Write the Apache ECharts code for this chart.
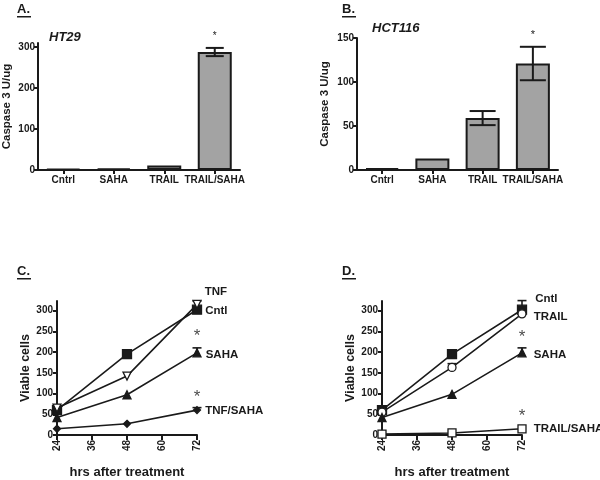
<!DOCTYPE html>
<html><head><meta charset="utf-8">
<script src="https://cdn.jsdelivr.net/npm/echarts@6/dist/echarts.min.js"></script>
<style>html,body{margin:0;padding:0;background:#fff}#c{width:600px;height:480px}</style>
</head><body><div id="c"></div>
<script>
// ---- Data ----
const barCategories = ['Cntrl', 'SAHA', 'TRAIL', 'TRAIL/SAHA'];
const ht29Values = [3, 4, 11, 288];
const ht29Err = [0, 0, 0, 10];
const ht29Star = [false, false, false, true];
const hct116Values = [2, 13, 59, 121];
const hct116Err = [0, 0, 8, 19];
const hct116Star = [false, false, false, true];
const barTicks = { A: [0, 100, 200, 300], B: [0, 50, 100, 150] };

const hours = [24, 48, 72];
const hourTicks = [24, 36, 48, 60, 72];
const cellTicks = [0, 50, 100, 150, 200, 250, 300];

const cCntl = [60, 195, 302];     const cCntlErr = [8, 10, 0];
const cTNF = [65, 142, 315];      const cTNFErr = [5, 0, 8];
const cSAHA = [42, 97, 198];      const cSAHAErr = [0, 0, 12];
const cTNFSAHA = [15, 27, 60];    const cTNFSAHAErr = [0, 0, 6];
const cStars = [[72, 238], [72, 92]];

const dCntl = [60, 195, 302];     const dCntlErr = [5, 10, 22];
const dTRAIL = [55, 163, 292];    const dTRAILErr = [0, 9, 0];
const dSAHA = [42, 98, 198];      const dSAHAErr = [0, 0, 12];
const dTRAILSAHA = [2, 5, 15];    const dTRAILSAHAErr = [0, 0, 0];
const dStars = [[72, 235], [72, 44]];

// ---- Helpers ----
const FONT = 'Liberation Sans, Arial, sans-serif';
const INK = '#1a1a1a';
const tickLabel = { fontFamily: FONT, fontWeight: 'bold', fontSize: 10, color: INK };

function barErrData(vals, errs, stars) {
  return vals.map((v, i) => [i, v - errs[i], v + errs[i], errs[i] > 0 ? 1 : 0, stars[i] ? 1 : 0]);
}
function barErrSeries(axisIdx, data, capW, starFont, starGap) {
  return {
    type: 'custom', xAxisIndex: axisIdx, yAxisIndex: axisIdx, z: 5,
    data: data,
    renderItem: function (params, api) {
      const x = api.value(0);
      const lo = api.coord([x, api.value(1)]);
      const hi = api.coord([x, api.value(2)]);
      const st = { stroke: INK, lineWidth: 2 };
      const children = [];
      if (api.value(3)) {
        children.push({ type: 'line', shape: { x1: hi[0], y1: hi[1], x2: lo[0], y2: lo[1] }, style: st });
        children.push({ type: 'line', shape: { x1: hi[0] - capW / 2, y1: hi[1], x2: hi[0] + capW / 2, y2: hi[1] }, style: st });
        children.push({ type: 'line', shape: { x1: lo[0] - capW / 2, y1: lo[1], x2: lo[0] + capW / 2, y2: lo[1] }, style: st });
      }
      if (api.value(4)) {
        children.push({ type: 'text', style: { text: '*', x: hi[0], y: hi[1] - starGap, align: 'center', verticalAlign: 'middle', font: starFont, fill: INK } });
      }
      return { type: 'group', children: children };
    }
  };
}
function lineErrSeries(axisIdx, vals, errs) {
  const data = hours.map((h, i) => [h, vals[i], vals[i] + errs[i]]).filter((d, i) => errs[i] > 0);
  return {
    type: 'custom', xAxisIndex: axisIdx, yAxisIndex: axisIdx, z: 4, data: data,
    renderItem: function (params, api) {
      const a = api.coord([api.value(0), api.value(1)]);
      const b = api.coord([api.value(0), api.value(2)]);
      const st = { stroke: INK, lineWidth: 1.6 };
      return { type: 'group', children: [
        { type: 'line', shape: { x1: a[0], y1: a[1], x2: b[0], y2: b[1] }, style: st },
        { type: 'line', shape: { x1: b[0] - 4.5, y1: b[1], x2: b[0] + 4.5, y2: b[1] }, style: st }
      ] };
    }
  };
}
function lineSeries(axisIdx, name, vals, symbol, size, filled, lblOffset) {
  return {
    type: 'line', name: name, xAxisIndex: axisIdx, yAxisIndex: axisIdx, z: 6,
    data: hours.map((h, i) => [h, vals[i]]),
    symbol: symbol, symbolSize: size, showAllSymbol: true,
    lineStyle: { color: INK, width: 1.6 },
    itemStyle: { color: filled ? INK : '#fff', borderColor: INK, borderWidth: 1.3 },
    label: { show: true, position: 'right', distance: 0, offset: lblOffset,
      formatter: p => (p.dataIndex === hours.length - 1 ? name : ''),
      fontFamily: FONT, fontWeight: 'bold', fontSize: 11.5, color: INK },
    emphasis: { disabled: true }, animation: false
  };
}
function starSeries(axisIdx, pts) {
  return {
    type: 'scatter', xAxisIndex: axisIdx, yAxisIndex: axisIdx, symbolSize: 0, data: pts,
    label: { show: true, position: 'inside', formatter: '*', fontFamily: FONT, fontSize: 17, color: INK },
    animation: false
  };
}

const axisLine = { show: true, lineStyle: { color: INK, width: 2 } };
const axisTick = { show: true, length: 4, lineStyle: { color: INK, width: 2 } };

function barX(idx) {
  return { type: 'category', gridIndex: idx, data: barCategories, axisLine: axisLine,
    axisTick: Object.assign({ alignWithLabel: true }, axisTick),
    axisLabel: Object.assign({ margin: 5, interval: 0 }, tickLabel) };
}
function barY(idx, max, ticks, gap) {
  return { type: 'value', gridIndex: idx, min: 0, max: max, splitLine: { show: false },
    axisLine: axisLine,
    axisTick: Object.assign({ customValues: ticks }, axisTick),
    axisLabel: Object.assign({ customValues: ticks, margin: 3 }, tickLabel),
    name: 'Caspase 3 U/ug', nameLocation: 'middle', nameGap: gap, nameRotate: 90,
    nameTextStyle: { fontFamily: FONT, fontWeight: 'bold', fontSize: 11.5, color: INK } };
}
function lineX(idx) {
  return { type: 'value', gridIndex: idx, min: 24, max: 72, interval: 12, splitLine: { show: false },
    axisLine: axisLine,
    axisTick: Object.assign({ customValues: hourTicks }, axisTick, { length: 5 }),
    axisLabel: Object.assign({ customValues: hourTicks, rotate: 90, margin: 5 }, tickLabel),
    name: 'hrs after treatment', nameLocation: 'middle', nameGap: 31,
    nameTextStyle: { fontFamily: FONT, fontWeight: 'bold', fontSize: 13, color: INK } };
}
function lineY(idx) {
  return { type: 'value', gridIndex: idx, min: 0, max: 323, splitLine: { show: false },
    axisLine: axisLine,
    axisTick: Object.assign({ customValues: cellTicks }, axisTick),
    axisLabel: Object.assign({ customValues: cellTicks, margin: 4 }, tickLabel),
    name: 'Viable cells', nameLocation: 'middle', nameGap: 25, nameRotate: 90,
    nameTextStyle: { fontFamily: FONT, fontWeight: 'bold', fontSize: 12.5, color: INK } };
}
function barSeries(idx, vals) {
  return { type: 'bar', xAxisIndex: idx, yAxisIndex: idx, data: vals, barWidth: 34,
    itemStyle: { color: '#a3a3a3', borderColor: INK, borderWidth: 2 }, animation: false };
}
function panelTitle(txt, x, y) {
  return [
    { type: 'text', left: x, top: y, style: { text: txt, font: 'bold 13px ' + FONT, fill: INK } },
    { type: 'rect', left: x, top: y + 13, shape: { width: 14, height: 1.5 }, style: { fill: INK } }
  ];
}

const chart = echarts.init(document.getElementById('c'), null, { renderer: 'canvas' });
chart.setOption({
  animation: false,
  grid: [
    { left: 38, top: 43, width: 202, height: 127 },
    { left: 357, top: 38, width: 201, height: 132 },
    { left: 57, top: 301, width: 140, height: 140 },
    { left: 382, top: 301, width: 140, height: 140 }
  ],
  xAxis: [barX(0), barX(1), lineX(2), lineX(3)],
  yAxis: [barY(0, 310, barTicks.A, 25), barY(1, 150, barTicks.B, 26), lineY(2), lineY(3)],
  series: [
    barSeries(0, ht29Values),
    barErrSeries(0, barErrData(ht29Values, ht29Err, ht29Star), 18, '10px ' + FONT, 12),
    barSeries(1, hct116Values),
    barErrSeries(1, barErrData(hct116Values, hct116Err, hct116Star), 26, '11px ' + FONT, 12),

    lineErrSeries(2, cCntl, cCntlErr),
    lineErrSeries(2, cTNF, cTNFErr),
    lineErrSeries(2, cSAHA, cSAHAErr),
    lineErrSeries(2, cTNFSAHA, cTNFSAHAErr),
    lineSeries(2, 'Cntl', cCntl, 'rect', 9, true, [3, 1]),
    lineSeries(2, 'TNF', cTNF, 'path://M0,0L10,0L5,9Z', 8, false, [3, -12]),
    lineSeries(2, 'SAHA', cSAHA, 'triangle', 8, true, [4, 2]),
    lineSeries(2, 'TNF/SAHA', cTNFSAHA, 'diamond', 7, true, [4, 1]),
    starSeries(2, cStars),

    lineErrSeries(3, dCntl, dCntlErr),
    lineErrSeries(3, dTRAIL, dTRAILErr),
    lineErrSeries(3, dSAHA, dSAHAErr),
    lineErrSeries(3, dTRAILSAHA, dTRAILSAHAErr),
    lineSeries(3, 'Cntl', dCntl, 'rect', 9, true, [8, -11]),
    lineSeries(3, 'TRAIL', dTRAIL, 'circle', 8, false, [7, 3]),
    lineSeries(3, 'SAHA', dSAHA, 'triangle', 8, true, [7, 2]),
    lineSeries(3, 'TRAIL/SAHA', dTRAILSAHA, 'rect', 8, false, [7, 0]),
    starSeries(3, dStars)
  ],
  graphic: [].concat(
    panelTitle('A.', 17, 3), panelTitle('B.', 342, 3),
    panelTitle('C.', 17, 265), panelTitle('D.', 342, 265),
    [
      { type: 'text', left: 49, top: 31, style: { text: 'HT29', font: 'italic bold 13px ' + FONT, fill: INK } },
      { type: 'text', left: 372, top: 22, style: { text: 'HCT116', font: 'italic bold 13px ' + FONT, fill: INK } }
    ]
  )
});
</script></body></html>
